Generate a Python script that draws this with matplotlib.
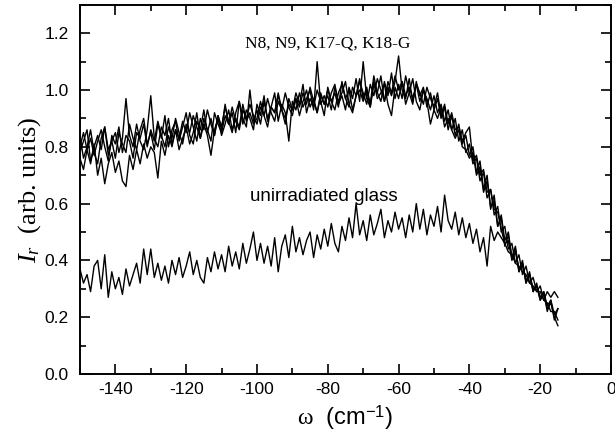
import numpy as np
import matplotlib
matplotlib.use('Agg')
import matplotlib.pyplot as plt
from matplotlib.ticker import MultipleLocator, FormatStrFormatter

plt.rcParams['mathtext.fontset'] = 'custom'
plt.rcParams['mathtext.rm'] = 'Liberation Serif'
plt.rcParams['mathtext.it'] = 'Liberation Serif:italic'
plt.rcParams['mathtext.sf'] = 'Liberation Sans'
plt.rcParams['axes.unicode_minus'] = False

# частоты, см^-1 (шаг 1)
omega = np.arange(-150, -14, 1.0)

# облучённые образцы N8, N9, K17-Q, K18-G
curve_a = [0.84, 0.76, 0.80, 0.86, 0.78, 0.74, 0.83, 0.87, 0.79, 0.82,
           0.76, 0.85, 0.81, 0.78, 0.88, 0.83, 0.79, 0.86, 0.90, 0.81,
           0.85, 0.79, 0.88, 0.83, 0.91, 0.80, 0.86, 0.89, 0.82, 0.87,
           0.92, 0.84, 0.81, 0.89, 0.86, 0.93, 0.85, 0.90, 0.84, 0.91,
           0.87, 0.94, 0.89, 0.85, 0.92, 0.96, 0.88, 0.93, 0.90, 0.86,
           0.95, 0.91, 0.98, 0.89, 0.94, 0.92, 0.99, 0.93, 0.88, 0.97,
           0.93, 0.99, 0.95, 1.02, 0.92, 0.97, 0.94, 1.00, 0.96, 0.91,
           1.01, 0.96, 0.99, 0.94, 1.03, 0.97, 1.00, 0.93, 0.98, 1.04,
           0.97, 1.01, 0.95, 1.05, 0.99, 0.96, 1.03, 0.98, 1.06, 0.97,
           1.02, 0.97, 1.05, 0.99, 0.95, 1.03, 0.98, 1.01, 0.94, 0.99,
           0.93, 0.97, 0.90, 0.94, 0.86, 0.91, 0.84, 0.88, 0.81, 0.84,
           0.77, 0.80, 0.71, 0.75, 0.65, 0.70, 0.58, 0.63, 0.52, 0.56,
           0.47, 0.50, 0.41, 0.45, 0.36, 0.40, 0.32, 0.36, 0.29, 0.32,
           0.26, 0.29, 0.22, 0.26, 0.19, 0.23]
curve_b = [0.78, 0.82, 0.86, 0.75, 0.80, 0.84, 0.79, 0.87, 0.77, 0.82,
           0.85, 0.78, 0.83, 0.97, 0.84, 0.80, 0.88, 0.82, 0.79, 0.86,
           0.98, 0.83, 0.80, 0.87, 0.84, 0.90, 0.81, 0.86, 0.83, 0.89,
           0.85, 0.92, 0.87, 0.82, 0.90, 0.86, 0.93, 0.88, 0.84, 0.91,
           0.86, 0.95, 0.88, 0.92, 0.85, 0.96, 0.90, 0.87, 1.00, 0.89,
           0.93, 0.88, 0.96, 0.90, 0.94, 0.99, 0.89, 0.95, 0.92, 0.82,
           0.96, 0.93, 0.99, 0.94, 0.97, 1.00, 0.93, 1.10, 0.95, 0.98,
           0.94, 0.99, 1.02, 0.95, 0.98, 0.93, 1.01, 0.97, 1.04, 0.96,
           1.10, 0.97, 0.94, 1.02, 0.99, 1.05, 0.96, 1.01, 0.98, 1.03,
           1.12, 1.00, 0.97, 1.04, 0.96, 1.02, 0.99, 0.95, 1.01, 0.97,
           0.94, 0.99, 0.91, 0.95, 0.88, 0.92, 0.86, 0.87, 0.82, 0.85,
           0.87, 0.75, 0.77, 0.70, 0.72, 0.64, 0.65, 0.58, 0.57, 0.51,
           0.46, 0.47, 0.40, 0.43, 0.37, 0.38, 0.33, 0.35, 0.30, 0.31,
           0.27, 0.29, 0.24, 0.26, 0.21, 0.23]
curve_c = [0.80, 0.85, 0.79, 0.83, 0.77, 0.82, 0.86, 0.80, 0.75, 0.84,
           0.81, 0.87, 0.78, 0.84, 0.82, 0.76, 0.85, 0.83, 0.88, 0.80,
           0.86, 0.82, 0.89, 0.84, 0.80, 0.87, 0.83, 0.90, 0.85, 0.81,
           0.88, 0.85, 0.91, 0.87, 0.83, 0.90, 0.86, 0.82, 0.92, 0.88,
           0.85, 0.91, 0.88, 0.94, 0.89, 0.86, 0.93, 0.90, 0.95, 0.91,
           0.88, 0.94, 0.91, 0.97, 0.92, 0.89, 0.96, 0.93, 0.99, 0.94,
           0.91, 0.97, 0.94, 0.99, 0.95, 1.01, 0.96, 0.92, 0.98, 0.95,
           1.00, 0.96, 0.93, 0.99, 1.02, 0.97, 0.94, 1.01, 0.98, 1.03,
           0.99, 0.95, 1.02, 0.98, 1.04, 1.00, 0.96, 1.03, 0.99, 1.05,
           1.00, 1.03, 0.98, 1.01, 0.97, 1.02, 0.96, 1.00, 0.97, 0.93,
           0.98, 0.92, 0.95, 0.89, 0.93, 0.86, 0.90, 0.82, 0.86, 0.78,
           0.81, 0.74, 0.76, 0.68, 0.71, 0.62, 0.65, 0.56, 0.59, 0.50,
           0.52, 0.44, 0.46, 0.39, 0.42, 0.35, 0.38, 0.32, 0.34, 0.29,
           0.31, 0.26, 0.29, 0.27, 0.29, 0.27]
curve_d = [0.76, 0.72, 0.79, 0.74, 0.81, 0.70, 0.76, 0.67, 0.74, 0.78,
           0.71, 0.75, 0.68, 0.66, 0.77, 0.72, 0.79, 0.74, 0.81, 0.76,
           0.80, 0.78, 0.69, 0.82, 0.77, 0.84, 0.80, 0.86, 0.79, 0.83,
           0.87, 0.81, 0.85, 0.92, 0.83, 0.88, 0.84, 0.77, 0.86, 0.90,
           0.84, 0.88, 0.93, 0.86, 0.90, 0.87, 0.95, 0.89, 0.92, 0.88,
           0.90, 0.96, 0.91, 0.87, 0.94, 0.92, 0.98, 0.93, 0.90, 0.95,
           0.93, 0.97, 0.91, 0.96, 1.00, 0.94, 0.97, 0.92, 0.99, 0.95,
           0.98, 0.93, 1.01, 0.96, 0.99, 1.03, 0.95, 0.92, 0.98, 1.00,
           0.96, 1.00, 0.94, 1.03, 0.97, 0.99, 1.02, 0.95, 0.91, 1.01,
           0.97, 1.03, 0.95, 0.99, 1.04, 0.96, 0.93, 1.00, 0.96, 0.88,
           0.93, 0.90, 0.94, 0.87, 0.90, 0.86, 0.83, 0.86, 0.80, 0.79,
           0.76, 0.78, 0.70, 0.73, 0.64, 0.68, 0.59, 0.61, 0.52, 0.55,
           0.45, 0.49, 0.41, 0.44, 0.36, 0.39, 0.32, 0.35, 0.29, 0.31,
           0.26, 0.28, 0.23, 0.25, 0.20, 0.17]

# необлучённое стекло
glass = [0.37, 0.32, 0.35, 0.29, 0.38, 0.40, 0.30, 0.42, 0.27, 0.36,
         0.30, 0.34, 0.28, 0.37, 0.31, 0.35, 0.39, 0.32, 0.44, 0.35,
         0.44, 0.34, 0.39, 0.33, 0.38, 0.32, 0.40, 0.35, 0.41, 0.34,
         0.38, 0.43, 0.35, 0.40, 0.34, 0.32, 0.41, 0.36, 0.43, 0.37,
         0.42, 0.36, 0.45, 0.38, 0.43, 0.37, 0.46, 0.39, 0.44, 0.50,
         0.40, 0.46, 0.39, 0.45, 0.38, 0.48, 0.36, 0.45, 0.49, 0.41,
         0.52, 0.43, 0.48, 0.42, 0.47, 0.50, 0.41, 0.49, 0.44, 0.51,
         0.45, 0.53, 0.46, 0.43, 0.52, 0.47, 0.55, 0.48, 0.60, 0.49,
         0.54, 0.47, 0.56, 0.49, 0.53, 0.58, 0.48, 0.54, 0.50, 0.57,
         0.51, 0.55, 0.48, 0.56, 0.50, 0.60, 0.51, 0.58, 0.49, 0.56,
         0.52, 0.59, 0.50, 0.63, 0.54, 0.51, 0.57, 0.49, 0.55, 0.48,
         0.53, 0.46, 0.51, 0.43, 0.48, 0.38, 0.52, 0.47, 0.50, 0.48,
         0.46, 0.43, 0.42, 0.39, 0.38, 0.36, 0.35, 0.32, 0.31, 0.29,
         0.29, 0.26, 0.25, 0.22, 0.22, 0.19]

fig, ax = plt.subplots(figsize=(6.15, 4.41), dpi=100)
fig.subplots_adjust(left=0.130, right=0.9935, top=0.989, bottom=0.152)

for y in [curve_a, curve_b, curve_c, curve_d, glass]:
    ax.plot(omega, y, color='black', lw=1.0)

ax.set_xlim(-150, 0)
ax.set_ylim(0, 1.3)
ax.xaxis.set_major_locator(MultipleLocator(20))
ax.xaxis.set_minor_locator(MultipleLocator(10))
ax.yaxis.set_major_locator(MultipleLocator(0.2))
ax.yaxis.set_minor_locator(MultipleLocator(0.1))
ax.yaxis.set_major_formatter(FormatStrFormatter('%.1f'))
ax.tick_params(which='both', direction='in', top=True, right=True, width=1.2)
ax.tick_params(which='major', length=7, labelsize=12.5)
ax.tick_params(axis='y', which='major', pad=8)
ax.tick_params(axis='x', which='major', pad=6)
ax.tick_params(which='minor', length=4)
for lab in ax.get_xticklabels() + ax.get_yticklabels():
    lab.set_family('Liberation Sans')
for s in ax.spines.values():
    s.set_linewidth(1.4)

ax.set_xlabel(r'$\mathrm{\omega}$  (cm$^{\mathsf{-1}}$)', fontsize=17, family='Liberation Sans', labelpad=4)
ax.set_ylabel(r'$I_r$  (arb. units)', fontsize=19, family='Liberation Serif', labelpad=1)

ax.text(-80, 1.165, 'N8, N9, K17-Q, K18-G', ha='center', va='center', fontsize=12.5, family='Liberation Serif')
ax.text(-81, 0.625, 'unirradiated glass', ha='center', va='center', fontsize=13.5, family='Liberation Sans')

plt.savefig('out.png', dpi=100)
